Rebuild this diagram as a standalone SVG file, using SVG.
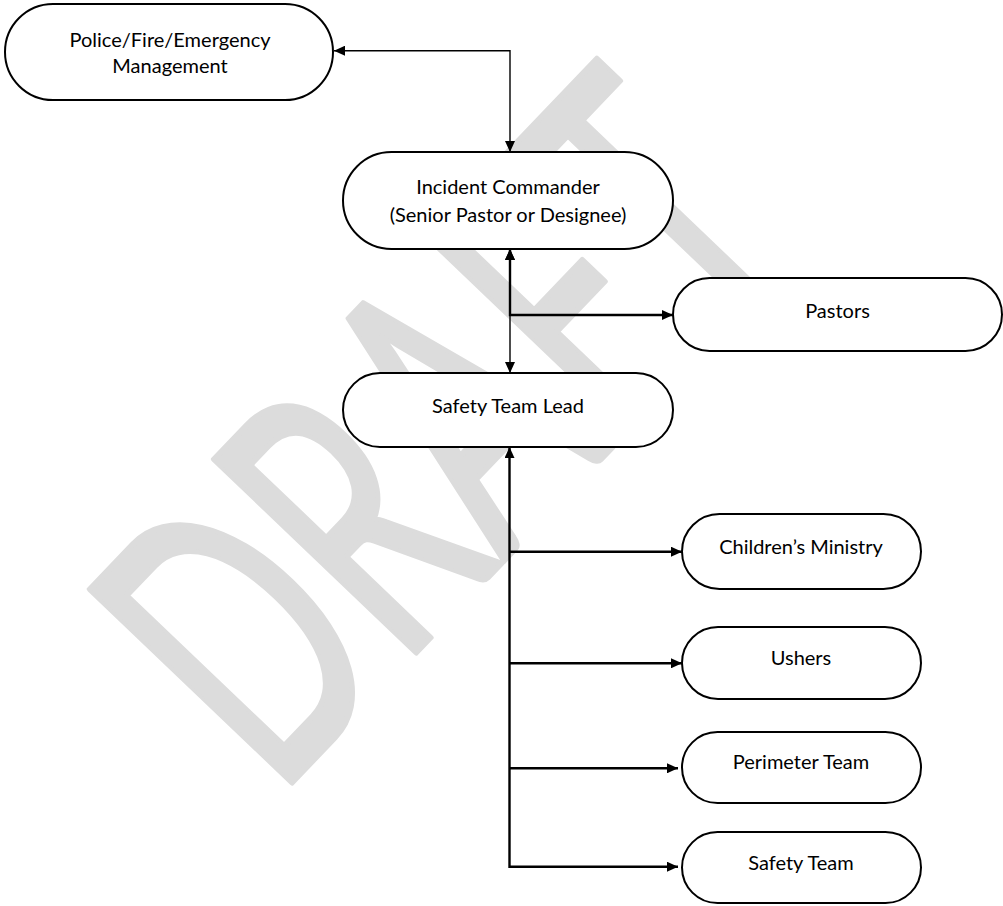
<svg xmlns="http://www.w3.org/2000/svg" width="1003" height="906" viewBox="0 0 1003 906">
  <defs>
    <style>
      .node rect { fill: #ffffff; stroke: #000000; stroke-width: 2; }
      .label { font-family: Lato, "Liberation Sans", sans-serif; font-size: 20px; fill: #000000; text-anchor: middle; }
      .conn { fill: none; stroke: #000000; stroke-linecap: butt; stroke-linejoin: miter; }
      .thin { stroke-width: 1.4; }
      .thick { stroke-width: 2.4; }
      .watermark { font-family: Lato, "Liberation Sans", sans-serif; font-size: 390px; fill: #dcdcdc; stroke: #dcdcdc; stroke-width: 6; stroke-linejoin: round; }
    </style>
    <marker id="arr" viewBox="0 0 11 10" refX="11" refY="5" markerWidth="11" markerHeight="10" markerUnits="userSpaceOnUse" orient="auto-start-reverse">
      <path d="M0,0 L11,5 L0,10 z" fill="#000000"/>
    </marker>
  </defs>
  <rect x="0" y="0" width="1003" height="906" fill="#ffffff"/>

  <g id="watermark" transform="translate(543.7 519) rotate(-46.3)">
    <text class="watermark" x="-387" y="0" textLength="761" lengthAdjust="spacingAndGlyphs">DRAFT</text>
  </g>

  <g id="connectors">
    <path class="conn thin" d="M510,152 V50.7 H334" marker-start="url(#arr)" marker-end="url(#arr)"/>
    <path class="conn thin" d="M510,249 V373" marker-start="url(#arr)" marker-end="url(#arr)"/>
    <path class="conn thick" d="M510,249 V315 H673" marker-start="url(#arr)" marker-end="url(#arr)"/>
    <path class="conn thick" d="M509.5,447 V866.7 H678" marker-start="url(#arr)" marker-end="url(#arr)"/>
    <path class="conn thick" d="M509.5,551.7 H682" marker-end="url(#arr)"/>
    <path class="conn thick" d="M509.5,663.3 H682" marker-end="url(#arr)"/>
    <path class="conn thick" d="M509.5,768.3 H678" marker-end="url(#arr)"/>
  </g>

  <g id="police" class="node">
    <rect x="5" y="4" width="328" height="96" rx="48" ry="48"/>
    <text class="label" x="170" y="46.7">Police/Fire/Emergency</text>
    <text class="label" x="170" y="72.7">Management</text>
  </g>
  <g id="incident-commander" class="node">
    <rect x="343" y="152" width="330" height="97" rx="48.5" ry="48.5"/>
    <text class="label" x="508" y="193.5">Incident Commander</text>
    <text class="label" x="508" y="221.5">(Senior Pastor or Designee)</text>
  </g>
  <g id="pastors" class="node">
    <rect x="673" y="278" width="329" height="73" rx="36.5" ry="36.5"/>
    <text class="label" x="837.5" y="318">Pastors</text>
  </g>
  <g id="safety-team-lead" class="node">
    <rect x="343" y="373" width="330" height="74" rx="37" ry="37"/>
    <text class="label" x="508" y="412.7">Safety Team Lead</text>
  </g>
  <g id="childrens-ministry" class="node">
    <rect x="682" y="514" width="239" height="75" rx="37.5" ry="37.5"/>
    <text class="label" x="801" y="554">Children’s Ministry</text>
  </g>
  <g id="ushers" class="node">
    <rect x="682" y="627" width="239" height="72" rx="36" ry="36"/>
    <text class="label" x="801" y="665">Ushers</text>
  </g>
  <g id="perimeter-team" class="node">
    <rect x="682" y="732" width="239" height="71" rx="35.5" ry="35.5"/>
    <text class="label" x="801" y="769.3">Perimeter Team</text>
  </g>
  <g id="safety-team" class="node">
    <rect x="682" y="832" width="239" height="71" rx="35.5" ry="35.5"/>
    <text class="label" x="801" y="870">Safety Team</text>
  </g>
</svg>
